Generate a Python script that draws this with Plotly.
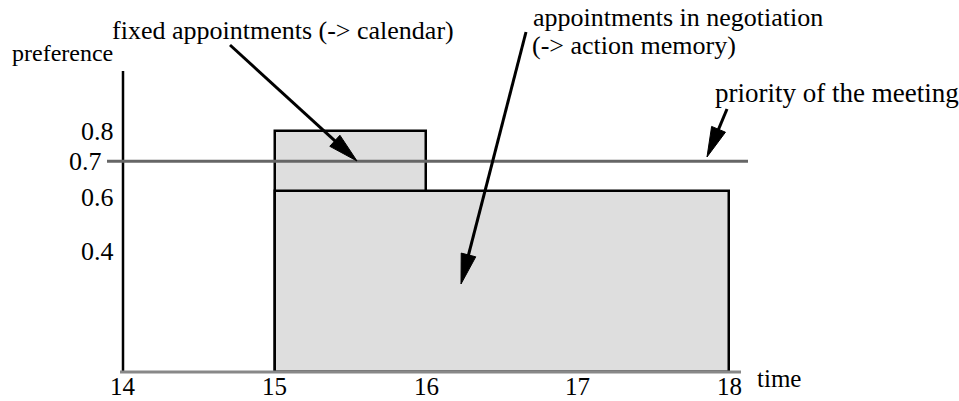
import math
import plotly.graph_objects as go

# ---- data ----
x_ticks = [14, 15, 16, 17, 18]
y_ticks = [0.4, 0.6, 0.7, 0.8]
y_tick_labels = ["0.4", "0.6", "0.7", "0.8"]
fixed_start, fixed_end, fixed_pref = 15, 16, 0.8
nego_start, nego_end, nego_pref = 15, 18, 0.6
priority = 0.7

W, H = 959, 401
# pixel mapping of the reference
X0PX, XUNIT = 123.0, 151.5   # x=14 at 123 px
Y0PX, YUNIT = 372.0, 301.0   # y=0 at 372 px, y=1 at 71 px

def dx(px):
    return 14 + (px - X0PX) / XUNIT

def dy(py):
    return (Y0PX - py) / YUNIT

FONT = "Liberation Serif"
FS = 26
FILL = "#dedede"

fig = go.Figure()
fig.add_trace(go.Bar(x=[(fixed_start + fixed_end) / 2], y=[fixed_pref],
                     width=[fixed_end - fixed_start],
                     marker=dict(color=FILL, line=dict(color="black", width=2.5)),
                     hoverinfo="skip"))
fig.add_trace(go.Bar(x=[(nego_start + nego_end) / 2], y=[nego_pref],
                     width=[nego_end - nego_start],
                     marker=dict(color=FILL, line=dict(color="black", width=2.5)),
                     hoverinfo="skip"))

shapes = [
    # y axis
    dict(type="line", x0=14, x1=14, y0=0, y1=dy(71), line=dict(color="black", width=2.5)),
    # x axis
    dict(type="line", x0=dx(120), x1=dx(741), y0=0, y1=0, line=dict(color="#888888", width=3)),
    # priority line
    dict(type="line", x0=dx(107), x1=dx(748), y0=priority, y1=priority,
         line=dict(color="#666666", width=3)),
]

ann = []
for t in x_ticks:
    ann.append(dict(x=t, y=dy(386), text=str(t), showarrow=False, xanchor="center",
                    yanchor="middle", font=dict(family=FONT, size=25, color="black")))
for v, lab in zip(y_ticks, y_tick_labels):
    if lab == "0.7":
        xpx, ys = 104, 0
    elif lab == "0.6":
        xpx, ys = 116, -6
    else:
        xpx, ys = 116, 0
    ann.append(dict(x=dx(xpx), y=v, text=lab, showarrow=False, xanchor="right",
                    yanchor="middle", yshift=ys, font=dict(family=FONT, size=FS, color="black")))

def label(text, xpx, ypx, size=FS):
    ann.append(dict(x=dx(xpx), y=dy(ypx), text=text, showarrow=False, xanchor="left",
                    yanchor="middle", font=dict(family=FONT, size=size, color="black")))

label("preference", 10, 53, 24)
label("time", 755, 378, 25)
label("fixed appointments (-> calendar)", 110, 30)
label("appointments in negotiation", 531, 17)
label("(-> action memory)", 530, 45)
label("priority of the meeting", 713, 93, 27)

HEAD_L, HEAD_W = 30.0, 15.0

def arrow(x1, y1, x2, y2):
    ux, uy = x2 - x1, y2 - y1
    n = math.hypot(ux, uy)
    ux, uy = ux / n, uy / n
    bx, by = x2 - HEAD_L * ux, y2 - HEAD_L * uy
    nx, ny = -uy, ux
    c1 = (bx + HEAD_W / 2 * nx, by + HEAD_W / 2 * ny)
    c2 = (bx - HEAD_W / 2 * nx, by - HEAD_W / 2 * ny)
    shapes.append(dict(type="line", x0=dx(x1), y0=dy(y1), x1=dx(bx + 2 * ux), y1=dy(by + 2 * uy),
                       line=dict(color="black", width=3)))
    path = "M {},{} L {},{} L {},{} Z".format(dx(x2), dy(y2), dx(c1[0]), dy(c1[1]),
                                               dx(c2[0]), dy(c2[1]))
    shapes.append(dict(type="path", path=path, fillcolor="black",
                       line=dict(color="black", width=1)))

arrow(230, 45, 357, 161)
arrow(526, 32, 461, 284)
arrow(727, 109, 707, 157)

fig.update_layout(
    width=W, height=H, margin=dict(l=0, r=0, t=0, b=0),
    paper_bgcolor="white", plot_bgcolor="white",
    barmode="overlay", showlegend=False, bargap=0,
    xaxis=dict(range=[dx(0), dx(W)], visible=False, fixedrange=True),
    yaxis=dict(range=[dy(H), dy(0)], visible=False, fixedrange=True),
    shapes=shapes, annotations=ann,
)
fig.write_html("out.html", config={"displayModeBar": False},
               post_script="document.body.style.margin='0';")
